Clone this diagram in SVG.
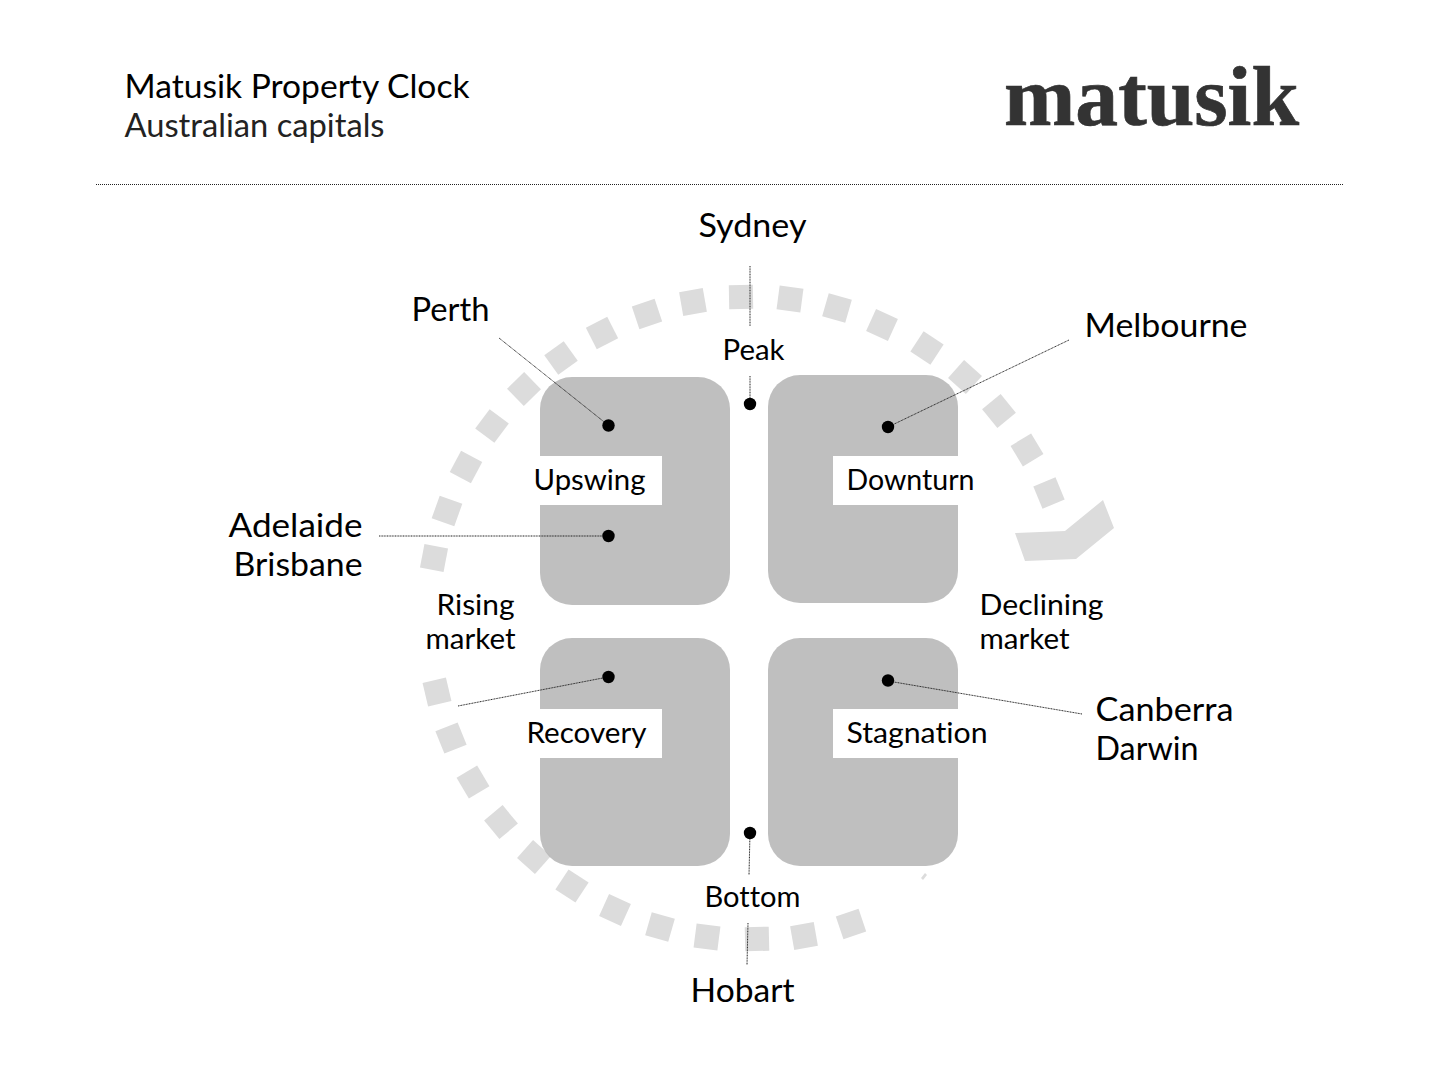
<svg xmlns="http://www.w3.org/2000/svg" width="1456" height="1092" viewBox="0 0 1456 1092">
<style>
text{font-family:"Lato","Noto Sans",sans-serif;fill:#000;font-variant-ligatures:none}
.c{font-size:32px}
.l{font-size:28px}
.logo{font-family:"Liberation Serif",serif;font-weight:bold;font-size:84px;fill:#333;stroke:#333;stroke-width:.7}
.t{fill:#dcdcdc}
.b{fill:#b6b6b6;fill-opacity:.87}
.w{fill:#fff}
.d{fill:#000}
.k{stroke:#222;stroke-width:1;stroke-dasharray:1 1;fill:none}
.m{stroke:#222;stroke-width:1;stroke-dasharray:1 .6;fill:none}
</style>
<defs><rect id="s" class="t" x="-12" y="-12" width="24" height="24"/></defs>
<rect width="1456" height="1092" fill="#fff"/>
<g id="ring">
<use href="#s" transform="translate(434 558) rotate(-79.2)"/>
<use href="#s" transform="translate(447 511) rotate(-70.4)"/>
<use href="#s" transform="translate(466 467) rotate(-61.8)"/>
<use href="#s" transform="translate(492 426) rotate(-53.1)"/>
<use href="#s" transform="translate(524 389) rotate(-44.4)"/>
<use href="#s" transform="translate(561 358) rotate(-35.7)"/>
<use href="#s" transform="translate(602 333) rotate(-27.1)"/>
<use href="#s" transform="translate(647 314) rotate(-18.4)"/>
<use href="#s" transform="translate(693 302) rotate(-9.9)"/>
<use href="#s" transform="translate(741 297) rotate(-1)"/>
<use href="#s" transform="translate(790 299) rotate(7.5)"/>
<use href="#s" transform="translate(837 308) rotate(16)"/>
<use href="#s" transform="translate(882 325) rotate(24.6)"/>
<use href="#s" transform="translate(927 348) rotate(33.5)"/>
<use href="#s" transform="translate(965 377) rotate(42)"/>
<use href="#s" transform="translate(999 411) rotate(50.5)"/>
<use href="#s" transform="translate(1027 450) rotate(59)"/>
<use href="#s" transform="translate(1049 493) rotate(67.5)"/>
<polygon class="t" points="1015,533 1065,531 1103,500 1114,528 1076,559 1025,561"/>
<use href="#s" transform="translate(437 692) rotate(-103.4)"/>
<use href="#s" transform="translate(451 738) rotate(-112)"/>
<use href="#s" transform="translate(473 782) rotate(-120.8)"/>
<use href="#s" transform="translate(501 822) rotate(-129.6)"/>
<use href="#s" transform="translate(534 857) rotate(-138.2)"/>
<use href="#s" transform="translate(572 886) rotate(-146.7)"/>
<use href="#s" transform="translate(615 910) rotate(-155.5)"/>
<use href="#s" transform="translate(660 927) rotate(-164)"/>
<use href="#s" transform="translate(707 937) rotate(-172.7)"/>
<use href="#s" transform="translate(757 939) rotate(178.6)"/>
<use href="#s" transform="translate(804 936) rotate(170)"/>
<use href="#s" transform="translate(851 924) rotate(161.4)"/>
<polygon class="t" points="925,873 927,875 923,880 921,878"/>
</g>
<g id="upswing">
<rect class="b" x="540" y="377" width="190" height="228" rx="32"/>
<rect class="w" x="530" y="456" width="132" height="49"/>
<text class="l" x="533.5" y="490" textLength="112" lengthAdjust="spacingAndGlyphs">Upswing</text>
</g>
<g id="downturn">
<rect class="b" x="768" y="375" width="190" height="228" rx="32"/>
<rect class="w" x="833" y="456" width="145" height="49"/>
<text class="l" x="846.5" y="490" textLength="128" lengthAdjust="spacingAndGlyphs">Downturn</text>
</g>
<g id="recovery">
<rect class="b" x="540" y="638" width="190" height="228" rx="32"/>
<rect class="w" x="524" y="709" width="138" height="49"/>
<text class="l" x="526.5" y="743" textLength="120" lengthAdjust="spacingAndGlyphs">Recovery</text>
</g>
<g id="stagnation">
<rect class="b" x="768" y="638" width="190" height="228" rx="32"/>
<rect class="w" x="833" y="709" width="158" height="49"/>
<text class="l" x="846.5" y="743" textLength="141" lengthAdjust="spacingAndGlyphs">Stagnation</text>
</g>
<g id="connectors">
<line class="k" x1="96" y1="184.5" x2="1343" y2="184.5"/>
<line class="m" x1="750" y1="266" x2="750" y2="326"/>
<line class="m" x1="750" y1="376" x2="750" y2="404"/>
<line class="m" x1="499" y1="338" x2="608" y2="425"/>
<line class="m" x1="1069" y1="340" x2="888" y2="427"/>
<line class="m" x1="379" y1="536" x2="608" y2="536"/>
<line class="m" x1="458" y1="706" x2="608" y2="677"/>
<line class="m" x1="1082" y1="714" x2="888" y2="681"/>
<line class="m" x1="750" y1="833" x2="749" y2="875"/>
<line class="m" x1="748" y1="923" x2="747" y2="965"/>
</g>
<g id="dots">
<circle class="d" cx="750" cy="404" r="6.2"/>
<circle class="d" cx="608.5" cy="425.5" r="6.2"/>
<circle class="d" cx="608.5" cy="536" r="6.2"/>
<circle class="d" cx="888" cy="427" r="6.2"/>
<circle class="d" cx="608.5" cy="677" r="6.2"/>
<circle class="d" cx="888" cy="680.5" r="6.2"/>
<circle class="d" cx="750" cy="833" r="6.2"/>
</g>
<g id="header">
<text class="c" x="124.5" y="98" textLength="345" lengthAdjust="spacingAndGlyphs">Matusik Property Clock</text>
<text class="c" x="124.5" y="137" textLength="260" lengthAdjust="spacingAndGlyphs" style="fill:#222">Australian capitals</text>
<text class="logo" x="1004" y="125" textLength="295" lengthAdjust="spacingAndGlyphs">matusik</text>
</g>
<g id="labels">
<text class="c" x="698.5" y="236.5" textLength="108" lengthAdjust="spacingAndGlyphs">Sydney</text>
<text class="l" x="722.5" y="359.5" textLength="62" lengthAdjust="spacingAndGlyphs">Peak</text>
<text class="c" x="411.5" y="320.5" textLength="78" lengthAdjust="spacingAndGlyphs">Perth</text>
<text class="c" x="1084.5" y="336.5" textLength="163" lengthAdjust="spacingAndGlyphs">Melbourne</text>
<text class="c" x="228.5" y="536.5" textLength="134" lengthAdjust="spacingAndGlyphs">Adelaide</text>
<text class="c" x="233.5" y="575.5" textLength="129" lengthAdjust="spacingAndGlyphs">Brisbane</text>
<text class="l" x="436.5" y="615" textLength="78" lengthAdjust="spacingAndGlyphs">Rising</text>
<text class="l" x="425.5" y="649" textLength="90" lengthAdjust="spacingAndGlyphs">market</text>
<text class="l" x="979.5" y="615" textLength="124" lengthAdjust="spacingAndGlyphs">Declining</text>
<text class="l" x="979.5" y="649" textLength="90" lengthAdjust="spacingAndGlyphs">market</text>
<text class="c" x="1095.5" y="720.5" textLength="138" lengthAdjust="spacingAndGlyphs">Canberra</text>
<text class="c" x="1095.5" y="759.5" textLength="103" lengthAdjust="spacingAndGlyphs">Darwin</text>
<text class="l" x="704.5" y="907" textLength="96" lengthAdjust="spacingAndGlyphs">Bottom</text>
<text class="c" x="690.5" y="1001.5" textLength="104" lengthAdjust="spacingAndGlyphs">Hobart</text>
</g>
</svg>
